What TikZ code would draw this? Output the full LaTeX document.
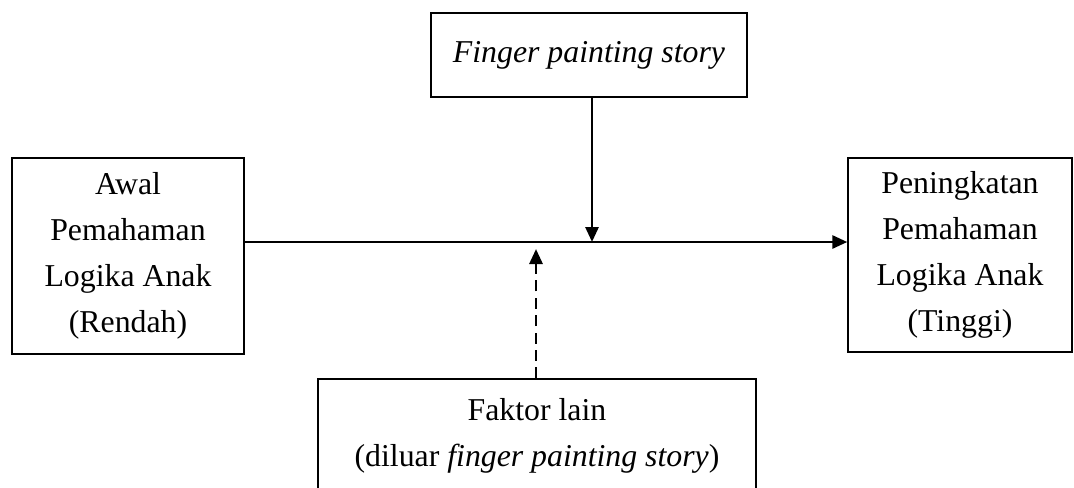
\documentclass[tikz,border=0pt]{standalone}
\usepackage{fontspec}
\setmainfont{Liberation Serif}
\usetikzlibrary{arrows.meta}
\begin{document}
\begin{tikzpicture}[x=0.5pt,y=-0.5pt,
  box/.style={draw, line width=0.7pt, inner sep=0pt, align=center,
    font=\fontsize{15.9}{22.9}\selectfont},
  conn/.style={line width=1.4pt, -{Triangle[length=7.5pt,width=6.5pt]}},
  dashconn/.style={conn, dash pattern=on 5.5pt off 3.2pt}]
  \useasboundingbox (0,0) rectangle (1074,487);
  \clip (0,0) rectangle (1074,487);

  \node[box, minimum width=316*0.5pt, minimum height=84*0.5pt]
    (story) at (589,55) {\textit{Finger painting story}};
  \node[box, minimum width=232*0.5pt, minimum height=196*0.5pt]
    (awal) at (128,256) {Awal\\Pemahaman\\Logika Anak\\(Rendah)};
  \node[box, minimum width=224*0.5pt, minimum height=194*0.5pt]
    (naik) at (960,255) {Peningkatan\\Pemahaman\\Logika Anak\\(Tinggi)};
  \node[box, minimum width=438*0.5pt, minimum height=114*0.5pt]
    (lain) at (537,436) {Faktor lain\\(diluar \textit{finger painting story})};

  \coordinate (m) at (0,242);
  \draw[conn] (awal.east |- m) -- (naik.west |- m);
  \draw[conn] ([xshift=1.5pt]story.south) -- ([xshift=1.5pt]story.south |- m);
  \draw[dashconn, shorten >=2pt] ([xshift=-0.5pt]lain.north) -- ([xshift=-0.5pt,yshift=-1.5pt]lain.north |- m);
\end{tikzpicture}
\end{document}
